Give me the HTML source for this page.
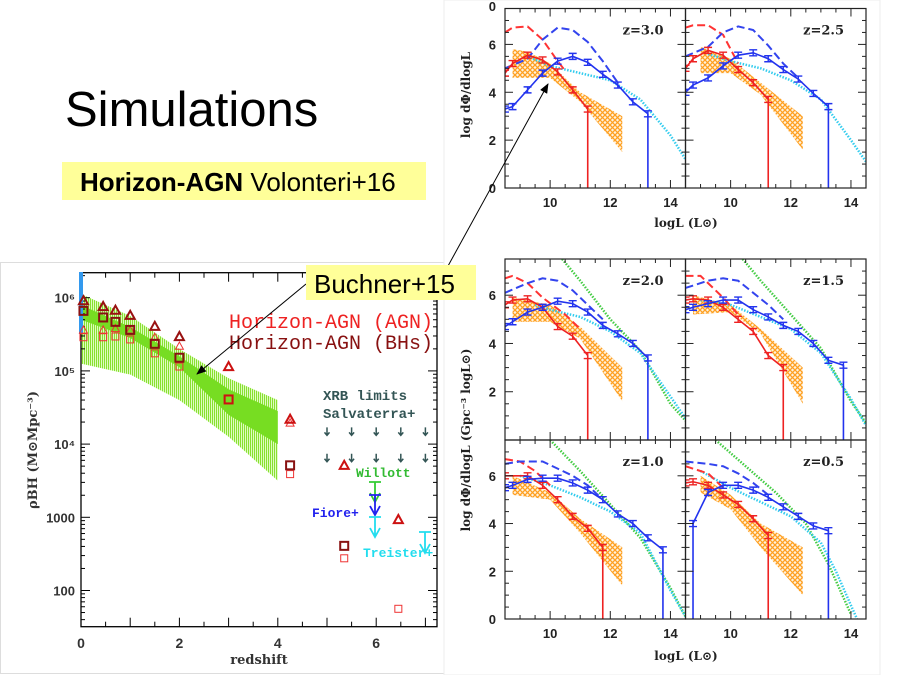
<!DOCTYPE html>
<html><head><meta charset="utf-8"><style>
html,body{margin:0;padding:0;background:#fff;}
svg{display:block;}
.t{font-family:"Liberation Sans",sans-serif;}
.s{font-family:"DejaVu Serif","Liberation Serif",serif;}
.m{font-family:"Liberation Mono","DejaVu Sans Mono",monospace;}
</style></head><body>
<svg id="root" width="900" height="675" viewBox="0 0 900 675" xmlns="http://www.w3.org/2000/svg">
<defs>
<pattern id="hatch" width="5" height="5" patternUnits="userSpaceOnUse">
<rect width="5" height="5" fill="#fff2dd"/>
<path d="M0,0L5,5M5,0L0,5" stroke="#ffa020" stroke-width="1.3"/>
</pattern>
<pattern id="vstripe" width="2" height="4" patternUnits="userSpaceOnUse">
<rect width="2" height="4" fill="#e8ffd0"/>
<rect width="1.1" height="4" fill="#88e030"/>
</pattern>
<marker id="ah" markerWidth="10" markerHeight="8" refX="9" refY="4" orient="auto" markerUnits="userSpaceOnUse">
<path d="M0,0L10,4L0,8z" fill="#000"/>
</marker>
</defs>
<text x="65" y="126" font-size="49" class="t" fill="#000">Simulations</text>
<rect x="62" y="162" width="364" height="38" fill="#ffff99"/>
<text x="80" y="191" font-size="26" class="t"><tspan font-weight="bold">Horizon-AGN</tspan> Volonteri+16</text>
<rect x="0.5" y="262.5" width="445" height="411" fill="#fff" stroke="#ddd"/>
<rect x="444" y="0" width="436" height="675" fill="#fff" stroke="#eee"/>
<g id="left"></g>
<g id="right"></g>
<g id="overlay"></g>
</svg>
<script>
// ---------- Left chart data ----------
const zAGNdarkTri = [0.05,0.45,0.7,1.0,1.5,2.0,3.0,4.25,5.35,6.45];
const logAGNdarkTri = [5.96,5.88,5.83,5.76,5.61,5.47,5.06,4.34,3.71,2.97];
const zAGNlightTri = [0.05,0.45,0.7,1.0,1.5,2.0,4.25];
const logAGNlightTri = [5.56,5.56,5.58,5.56,5.46,5.34,4.29];
const zBHdarkSq = [0.05,0.45,0.7,1.0,1.5,2.0,3.0,4.25,5.35];
const logBHdarkSq = [5.82,5.73,5.67,5.56,5.37,5.18,4.61,3.71,2.61];
const zBHlightSq = [0.05,0.45,0.7,1.0,1.5,2.0,3.0,4.25,5.35,6.45];
const logBHlightSq = [5.46,5.46,5.47,5.43,5.24,5.06,4.61,3.59,2.44,1.75];
const bandZ = [0,1,2,3,4];
const lightBandHi = [6.05,5.75,5.3,4.9,4.6];
const lightBandLo = [5.1,4.95,4.6,4.1,3.5];
const darkBandHi = [5.9,5.6,5.2,4.75,4.45];
const darkBandLo = [5.7,5.45,5.05,4.4,4.0];
const xrbZ = [5,5.5,6,6.5,7];
const xrbLogA = [4.16];
const xrbLogB = [3.8];
const xTicksLeft = [0,2,4,6];
const yTicksLeft = [2,3,4,5,6];
const yTickLabelsLeft = ['100','1000','10⁴','10⁵','10⁶'];

const NS='http://www.w3.org/2000/svg';
function mk(tag, attrs, parent){const e=document.createElementNS(NS,tag);for(const k in attrs)e.setAttribute(k,attrs[k]);parent.appendChild(e);return e;}
const L=document.getElementById('left');
const LX=z=>81+z*49.2, LY=v=>297.7+(6-v)*73.2;
function bandPath(hi,lo){let d='';bandZ.forEach((z,i)=>{d+=(i?'L':'M')+LX(z)+','+LY(hi[i]);});for(let i=bandZ.length-1;i>=0;i--)d+='L'+LX(bandZ[i])+','+LY(lo[i]);return d+'Z';}
let e=mk('path',{d:bandPath(lightBandHi,lightBandLo),fill:'url(#vstripe)'},L);

e=mk('path',{d:bandPath(darkBandHi,darkBandLo),fill:'#77dd22'},L);

e=mk('rect',{x:81,y:272.7,width:356,height:354,fill:'none',stroke:'#000','stroke-width':1.3},L);

for(let z=0;z<=7.25;z+=0.5){const big=Math.abs(z-Math.round(z))<1e-6;
 mk('line',{x1:LX(z),x2:LX(z),y1:626.7,y2:626.7-(big?9:5),stroke:'#000'},L);
 mk('line',{x1:LX(z),x2:LX(z),y1:272.7,y2:272.7+(big?9:5),stroke:'#000'},L);}
for(let d=1;d<=6;d++){for(let k=1;k<10;k++){const v=d+Math.log10(k);const y=LY(v);if(y<272.7||y>626.7)continue;const w=k==1?9:4;
 mk('line',{x1:81,x2:81+w,y1:y,y2:y,stroke:'#000'},L);mk('line',{x1:437,x2:437-w,y1:y,y2:y,stroke:'#000'},L);}}
xTicksLeft.forEach(z=>{e=mk('text',{x:LX(z),y:648,'text-anchor':'middle','font-size':14,class:'t','font-weight':'bold',fill:'#333'},L);e.textContent=z;
 });
yTicksLeft.forEach((v,i)=>{e=mk('text',{x:75,y:LY(v)+5,'text-anchor':'end','font-size':13,class:'t','font-weight':'bold',fill:'#333'},L);e.textContent=yTickLabelsLeft[i];
 });
e=mk('text',{x:259,y:664,'text-anchor':'middle','font-size':13,class:'s','font-weight':'bold',fill:'#333'},L);e.textContent='redshift';

e=mk('text',{x:0,y:0,transform:'translate(37,450) rotate(-90)','text-anchor':'middle','font-size':13,class:'s','font-weight':'bold',fill:'#333'},L);e.textContent='ρBH (M⊙Mpc⁻³)';

e=mk('rect',{x:79,y:272,width:4,height:62,fill:'#3399ee'},L);

function tri(z,v,col,sw,s,name){const x=LX(z),y=LY(v);const p=mk('path',{d:`M${x-s},${y+s*0.8}L${x+s},${y+s*0.8}L${x},${y-s}Z`,fill:'none',stroke:col,'stroke-width':sw},L);
 }
function sq(z,v,col,sw,s,name){const x=LX(z),y=LY(v);const p=mk('rect',{x:x-s,y:y-s,width:2*s,height:2*s,fill:'none',stroke:col,'stroke-width':sw},L);
 }
zAGNlightTri.forEach((z,i)=>tri(z,logAGNlightTri[i],'#ee3333',1,4,'agn-light-triangle'));
zBHlightSq.forEach((z,i)=>sq(z,logBHlightSq[i],'#ee3333',1,3.5,'bh-light-square'));
zAGNdarkTri.forEach((z,i)=>tri(z,logAGNdarkTri[i],z>2.5?'#cc1111':'#991111',2,4.5,'agn-dark-triangle'));
zBHdarkSq.forEach((z,i)=>sq(z,logBHdarkSq[i],z==3?'#cc1111':'#881111',2,4,'bh-dark-square'));
[xrbLogA,xrbLogB].forEach(a=>xrbZ.forEach(z=>{const x=LX(z),y=LY(a[0]);
 e=mk('path',{d:`M${x},${y-5}L${x},${y+2}M${x-2.5},${y}L${x},${y+3}L${x+2.5},${y}`,stroke:'#335555','stroke-width':1.5,fill:'none'},L);
 }));
function lim(x,y1,y2,col,name){e=mk('path',{d:`M${x-6},${y1}L${x+6},${y1}M${x},${y1}L${x},${y2}M${x-5},${y2-9}L${x},${y2}L${x+5},${y2-9}`,stroke:col,'stroke-width':1.8,fill:'none'},L);
 }
lim(375,482,502,'#33cc33','willott-limit');lim(375,495,515,'#2222ee','fiore-limit');lim(375,517,537,'#22ddee','treister-limit-1');lim(425,532,553,'#22ddee','treister-limit-2');
const labs=[['XRB limits',323,400,'#335555',14],['Salvaterra+',323,418,'#335555',14],['Willott',356,477,'#33bb33',13],['Fiore+',312,517,'#2222ee',13],['Treister+',363,557,'#22ddee',13]];
labs.forEach(l=>{e=mk('text',{x:l[1],y:l[2],'font-size':l[4],class:'m','font-weight':'bold',fill:l[3]},L);e.textContent=l[0];
 });
e=mk('text',{x:229,y:328,'font-size':20,class:'m',fill:'#ee2222'},L);e.textContent='Horizon-AGN (AGN)';

e=mk('text',{x:229,y:349,'font-size':20,class:'m',fill:'#881111'},L);e.textContent='Horizon-AGN (BHs)';


// ---------- Right panels data ----------
const panelLabels = ['z=3.0','z=2.5','z=2.0','z=1.5','z=1.0','z=0.5'];
const redSolid = [
 [[8.5,4.8],[8.75,5.2],[9.25,5.55],[9.75,5.35],[10.25,4.85],[10.75,4.1],[11.25,3.3]],
 [[8.5,5.0],[8.75,5.4],[9.25,5.75],[9.75,5.55],[10.25,4.95],[10.75,4.4],[11.25,3.7]],
 [[8.5,5.6],[8.75,5.8],[9.25,5.85],[9.75,5.5],[10.25,4.7],[10.75,4.3],[11.25,3.5]],
 [[8.5,5.8],[8.75,5.85],[9.25,5.8],[9.75,5.5],[10.25,5.0],[10.75,4.5],[11.25,3.5],[11.75,3.0]],
 [[8.5,6.0],[9.25,6.0],[9.75,5.6],[10.25,5.0],[10.75,4.3],[11.25,3.8],[11.75,3.0]],
 [[8.5,5.7],[8.75,5.75],[9.25,5.6],[9.75,5.2],[10.25,4.8],[10.75,4.2],[11.25,3.5]]];
const redDashed = [
 [[8.5,6.5],[8.75,6.7],[9.25,6.75],[9.75,6.2],[10.25,5.3],[10.5,4.9]],
 [[8.5,6.7],[8.75,6.8],[9.25,6.8],[9.75,6.4],[10.25,5.2]],
 [[8.5,6.7],[8.75,6.8],[9.25,6.5],[9.75,5.9],[10.5,5.2],[11,4.6]],
 [[8.5,6.8],[9,6.8],[9.25,6.5],[9.75,5.9],[10.25,5.2]],
 [[8.5,6.7],[9,6.6],[9.5,6.2],[10,5.6]],
 [[8.5,6.4],[9.25,6.1],[9.75,5.5]]];
const blueSolid = [
 [[8.5,3.3],[8.75,3.4],[9.25,4.1],[9.75,4.8],[10.25,5.3],[10.75,5.5],[11.25,5.25],[11.75,4.75],[12.25,4.3],[12.75,3.6],[13.25,3.1]],
 [[8.5,4.0],[8.75,4.3],[9.25,4.6],[9.75,5.1],[10.25,5.55],[10.75,5.65],[11.25,5.4],[11.75,4.95],[12.25,4.55],[12.75,3.95],[13.25,3.4]],
 [[8.5,4.7],[8.75,4.9],[9.25,5.3],[9.75,5.5],[10.25,5.75],[10.75,5.65],[11.25,5.3],[11.75,4.75],[12.25,4.4],[12.75,4.0],[13.25,3.4]],
 [[8.5,5.4],[8.75,5.5],[9.25,5.65],[9.75,5.8],[10.25,5.8],[10.75,5.4],[11.25,5.1],[11.75,4.75],[12.25,4.5],[12.75,4.0],[13.25,3.3],[13.75,3.1]],
 [[8.5,5.5],[8.75,5.6],[9.25,5.85],[9.75,5.9],[10.25,5.9],[10.75,5.7],[11.25,5.4],[11.75,5.0],[12.25,4.4],[12.75,4.0],[13.25,3.4],[13.75,2.9]],
 [[8.75,4.0],[9.25,5.3],[9.75,5.6],[10.25,5.6],[10.75,5.4],[11.25,5.1],[11.75,4.7],[12.25,4.3],[12.75,3.9],[13.25,3.7]]];
const blueDashed = [
 [[8.5,5.0],[9.25,5.4],[9.75,6.2],[10.25,6.7],[10.75,6.6],[11.25,6.1],[11.75,5.3],[12.25,4.4]],
 [[8.5,5.5],[9.25,5.9],[9.75,6.5],[10.25,6.75],[10.75,6.6],[11.25,5.95],[11.75,5.2],[12.25,4.6]],
 [[8.5,6.1],[9.25,6.5],[9.75,6.7],[10.25,6.6],[10.75,6.2],[11.25,5.6],[11.75,5.0]],
 [[8.5,6.3],[9.25,6.6],[9.75,6.7],[10.25,6.6],[10.75,6.1],[11.25,5.6],[11.75,5.0]],
 [[8.5,6.5],[9,6.6],[9.75,6.6],[10.25,6.3],[10.75,6.0],[11.25,5.6],[11.75,5.0]],
 [[8.5,6.6],[9.25,6.5],[9.75,6.4],[10.25,6.1],[10.75,5.7],[11.25,5.2]]];
const cyanDotted = [
 [[9.25,5.5],[10,5.1],[11,4.8],[12,4.5],[13,3.7],[14,2.2],[14.5,1.2]],
 [[9.25,5.6],[10,5.3],[11,5.0],[12,4.5],[13,3.7],[14,2.0],[14.5,1.1]],
 [[9.5,5.6],[10,5.4],[11,5.1],[12,4.5],[13,3.6],[14,1.8],[14.5,0.9]],
 [[9,5.8],[10,5.6],[11,5.1],[12,4.6],[13,3.6],[14,1.7],[14.5,0.6]],
 [[9,6.0],[10,5.6],[11,5.1],[12,4.5],[13,3.6],[14,1.2],[14.5,0.1]],
 [[9,6.2],[10,5.5],[11,4.9],[12,4.3],[13,3.2],[13.5,2.0],[14.2,0]]];
const greenDotted = [
 [],[],
 [[10.4,7.5],[11,6.6],[12,5.0],[13,3.7],[14,1.5],[14.5,0.8]],
 [[10.4,7.5],[11,6.6],[12,5.2],[13,3.8],[14,1.6],[14.5,0.7]],
 [[10,7.5],[11,6.2],[12,4.8],[13,3.4],[14,1.3],[14.5,0.1]],
 [[9.5,7.5],[10.5,6.4],[11.5,5.3],[12.5,4.0],[13.25,2.3],[14,0.2]]];
const orangeUpper = [
 [[8.75,5.8],[9.25,5.7],[10,5.2],[11,4.0],[12.4,3.0]],
 [[9.0,5.9],[10,5.4],[11,4.4],[12.4,3.0]],
 [[8.75,5.9],[10,5.6],[11,4.7],[12.4,3.0]],
 [[8.75,6.0],[10,5.6],[11,4.6],[12.4,3.0]],
 [[8.75,6.0],[10,5.3],[11,4.2],[12.4,3.0]],
 [[9,6.0],[10,5.2],[11,4.0],[12.4,3.0]]];
const orangeLower = [
 [[12.4,1.5],[11,3.6],[10,4.6],[8.75,4.6]],
 [[12.4,1.6],[11,3.9],[10,4.8],[9,4.8]],
 [[12.4,1.6],[11,4.2],[10,4.9],[8.75,4.9]],
 [[12.4,1.5],[11,4.4],[10,5.3],[8.75,5.2]],
 [[12.4,1.4],[11,3.6],[10,5.0],[8.75,5.2]],
 [[12.4,1.0],[11,3.0],[10,4.6],[9,5.3]]];
const xTickLabelsR = [10,12,14];
const yTickLabelsR = [0,2,4,6];

const R=document.getElementById('right');
const cols=[505,685.5], colW=180.5;
const rows=[[8.5,188],[259,440],[440,619]];
const XMIN=8.5,XMAX=14.5,YMAX=7.5;
panelLabels.forEach((lab,p)=>{
 const r = p<2?0:(p<4?1:2), c=p%2;
 const x0=cols[c], yT=rows[r][0], yB=rows[r][1];
 const X=v=>x0+(v-XMIN)/(XMAX-XMIN)*colW, Y=v=>yB-v/YMAX*(yB-yT);
 const g=mk('g',{},R);
 
 
 const cp='clip'+p;
 const cl=mk('clipPath',{id:cp},g);mk('rect',{x:x0,y:yT,width:colW,height:yB-yT},cl);
 const inner=mk('g',{'clip-path':`url(#${cp})`},g);
 const pts=a=>a.map(q=>X(q[0])+','+Y(q[1])).join(' ');
 e=mk('polygon',{points:pts(orangeUpper[p].concat(orangeLower[p])),fill:'url(#hatch)'},inner);
 
 if(greenDotted[p].length){e=mk('polyline',{points:pts(greenDotted[p]),fill:'none',stroke:'#44cc44','stroke-width':2.5,'stroke-dasharray':'1.5,1.5'},inner);
  }
 e=mk('polyline',{points:pts(cyanDotted[p]),fill:'none',stroke:'#33ccee','stroke-width':2.5,'stroke-dasharray':'1.5,1.5'},inner);
 
 e=mk('polyline',{points:pts(redDashed[p]),fill:'none',stroke:'#ff3333','stroke-width':2,'stroke-dasharray':'8,4'},inner);
 
 e=mk('polyline',{points:pts(blueDashed[p]),fill:'none',stroke:'#3344ee','stroke-width':2,'stroke-dasharray':'8,4'},inner);
 
 [[redSolid[p],'#ee2222','red'],[blueSolid[p],'#2233ee','blue']].forEach(s=>{
  e=mk('polyline',{points:pts(s[0]),fill:'none',stroke:s[1],'stroke-width':1.6},inner);
  
  s[0].forEach(q=>{const x=X(q[0]),y=Y(q[1]);
   e=mk('path',{d:`M${x-4},${y-3}L${x+4},${y-3}M${x},${y-3}L${x},${y+3}M${x-4},${y+3}L${x+4},${y+3}`,stroke:s[1],'stroke-width':1.4,fill:'none'},inner);
   });
  const last=s[0][s[0].length-1];
  e=mk('line',{x1:X(last[0]),x2:X(last[0]),y1:Y(last[1]),y2:yB,stroke:s[1],'stroke-width':1.6},inner);
  
  if(p==5&&s[2]=='blue'){const f=s[0][0];e=mk('line',{x1:X(f[0]),x2:X(f[0]),y1:Y(f[1]),y2:yB,stroke:s[1],'stroke-width':1.6},inner);
   }
 });
 mk('rect',{x:x0,y:yT,width:colW,height:yB-yT,fill:'none',stroke:'#222','stroke-width':1.2},g);
 for(let v=8.5;v<=14.5;v+=0.5){const big=Math.abs(v-Math.round(v))<1e-6&&Math.round(v)%2==0;const x=X(v);
  mk('line',{x1:x,x2:x,y1:yB,y2:yB-(big?8:4),stroke:'#222'},g);mk('line',{x1:x,x2:x,y1:yT,y2:yT+(big?8:4),stroke:'#222'},g);}
 for(let v=0;v<=7.5;v+=0.5){const big=v%2==0;const y=Y(v);
  mk('line',{x1:x0,x2:x0+(big?8:4),y1:y,y2:y,stroke:'#222'},g);mk('line',{x1:x0+colW,x2:x0+colW-(big?8:4),y1:y,y2:y,stroke:'#222'},g);}
 e=mk('text',{x:x0+colW-22,y:yT+26,'text-anchor':'end','font-size':13,class:'s','font-weight':'bold',fill:'#222'},g);e.textContent=lab;
 
 if(c==0){yTickLabelsR.forEach(v=>{if(r==1&&v==0)return;e=mk('text',{x:x0-9,y:Y(v)+5,'text-anchor':'end','font-size':13,class:'t','font-weight':'bold',fill:'#222'},g);e.textContent=v;
  });}
 if(r!=1){xTickLabelsR.forEach(v=>{e=mk('text',{x:X(v),y:yB+19,'text-anchor':'middle','font-size':13,class:'t','font-weight':'bold',fill:'#222'},g);e.textContent=v;
  });}
});
function rt(txt,x,y,rot,name){e=mk('text',{x:0,y:0,transform:`translate(${x},${y})${rot?' rotate(-90)':''}`,'text-anchor':'middle','font-size':12,class:'s','font-weight':'bold',fill:'#222'},R);e.textContent=txt;
 }
e=mk('text',{x:496,y:11,'text-anchor':'end','font-size':13,class:'t','font-weight':'bold',fill:'#222'},R);e.textContent='0';
rt('log dΦ/dlogL',470,95,true,'top-y-axis-title');
rt('log dΦ/dlogL (Gpc⁻³ logL⊙)',470,440,true,'bottom-y-axis-title');
rt('logL (L⊙)',686,227,false,'top-x-axis-title');
rt('logL (L⊙)',686,660,false,'bottom-x-axis-title');

const O=document.getElementById('overlay');
e=mk('line',{x1:448,y1:266,x2:548,y2:84,stroke:'#000','stroke-width':1,'marker-end':'url(#ah)'},O);

e=mk('line',{x1:306,y1:284,x2:197,y2:374,stroke:'#000','stroke-width':1,'marker-end':'url(#ah)'},O);

e=mk('rect',{x:306,y:265,width:170,height:35,fill:'#ffff99'},O);

e=mk('text',{x:314,y:293,'font-size':26,class:'t',fill:'#000'},O);e.textContent='Buchner+15';

</script>
</body></html>
